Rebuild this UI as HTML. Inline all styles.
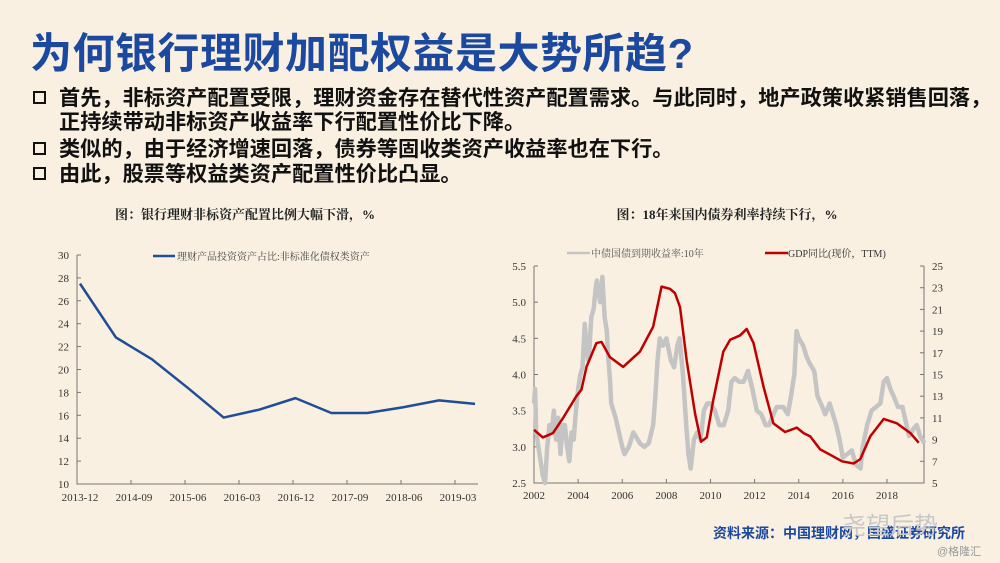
<!DOCTYPE html>
<html><head><meta charset="utf-8">
<style>
html,body{margin:0;padding:0;}
body{width:1000px;height:563px;background:#f9f0e1;position:relative;overflow:hidden;font-family:"Liberation Sans","Noto Sans CJK SC",sans-serif;}
.abs{position:absolute;white-space:nowrap;}
#title{left:30px;top:20px;font-size:42px;font-weight:bold;color:#1c49a0;letter-spacing:0.5px;}
.bul{font-size:21.2px;font-weight:bold;color:#111;}
.box{display:inline-block;width:13px;height:13px;border:2.5px solid #111;box-sizing:border-box;margin-right:13px;vertical-align:1px;}
#src{left:713px;top:523px;font-size:14px;font-weight:bold;color:#1c49a0;}
svg{position:absolute;left:0;top:0;}
</style></head>
<body>
<div id="title" class="abs">为何银行理财加配权益是大势所趋?</div>
<div class="abs bul" style="left:33px;top:81px"><span class="box"></span>首先，非标资产配置受限，理财资金存在替代性资产配置需求。与此同时，地产政策收紧销售回落，</div>
<div class="abs bul" style="left:59px;top:105px">正持续带动非标资产收益率下行配置性价比下降。</div>
<div class="abs bul" style="left:33px;top:132px"><span class="box"></span>类似的，由于经济增速回落，债券等固收类资产收益率也在下行。</div>
<div class="abs bul" style="left:33px;top:157px"><span class="box"></span>由此，股票等权益类资产配置性价比凸显。</div>
<div id="src" class="abs">资料来源：中国理财网，国盛证券研究所</div>
<div class="abs" style="left:842px;top:506px;font-size:24px;color:#c8c8c8;">尧望后势</div>
<div class="abs" style="left:937px;top:543px;font-size:11px;color:#999;">@格隆汇</div>
<svg id="chart" width="1000" height="563"></svg>
<script>
// Left chart data
const leftCats=["2013-12","2014-06","2014-12","2015-06","2015-12","2016-06","2016-12","2017-06","2017-12","2018-06","2018-12","2019-06"];
const leftVals=[27.5,22.8,20.9,18.4,15.8,16.5,17.5,16.2,16.2,16.7,17.3,17.0];
const leftTicksY=[10,12,14,16,18,20,22,24,26,28,30];
const leftTicksX=["2013-12","2014-09","2015-06","2016-03","2016-12","2017-09","2018-06","2019-03"];
// Right chart data
const gdpYears=[2002.0,2002.4,2002.86,2003.32,2003.92,2004.15,2004.38,2004.83,2005.06,2005.44,2006.04,2006.8,2007.4,2007.78,2008.16,2008.39,2008.62,2008.92,2009.3,2009.57,2009.83,2010.13,2010.58,2010.89,2011.34,2011.64,2011.95,2012.4,2012.85,2013.38,2013.91,2014.22,2014.52,2014.97,2015.43,2015.96,2016.49,2016.79,2017.24,2017.85,2018.45,2019.06,2019.44];
const gdpVals=[9.9,9.2,9.6,11.0,13.0,13.6,15.7,17.9,18.0,16.6,15.7,17.1,19.4,23.1,22.9,22.5,21.2,16.3,11.4,8.8,9.2,12.7,17.1,18.2,18.6,19.2,17.9,13.9,10.5,9.7,10.1,9.6,9.3,8.1,7.6,7.0,6.8,7.2,9.3,10.9,10.5,9.6,8.7];
const bondYears=[2002.0,2002.05,2002.1,2002.2,2002.3,2002.4,2002.5,2002.6,2002.7,2002.8,2002.9,2003.0,2003.1,2003.2,2003.3,2003.4,2003.5,2003.6,2003.7,2003.8,2003.9,2004.0,2004.1,2004.2,2004.3,2004.35,2004.45,2004.5,2004.6,2004.7,2004.8,2004.85,2004.95,2005.0,2005.1,2005.2,2005.3,2005.35,2005.45,2005.5,2005.6,2005.7,2005.85,2006.0,2006.1,2006.3,2006.5,2006.6,2006.8,2007.0,2007.2,2007.4,2007.5,2007.6,2007.7,2007.85,2008.0,2008.2,2008.35,2008.5,2008.6,2008.75,2008.9,2009.0,2009.1,2009.25,2009.4,2009.55,2009.7,2009.85,2010.0,2010.2,2010.4,2010.6,2010.8,2010.95,2011.1,2011.3,2011.5,2011.7,2011.9,2012.1,2012.3,2012.5,2012.65,2012.85,2013.0,2013.3,2013.5,2013.65,2013.8,2013.9,2014.0,2014.2,2014.35,2014.5,2014.7,2014.85,2015.0,2015.2,2015.4,2015.55,2015.7,2015.85,2016.0,2016.2,2016.4,2016.6,2016.8,2016.9,2017.1,2017.3,2017.5,2017.7,2017.85,2018.0,2018.15,2018.3,2018.5,2018.7,2018.85,2019.0,2019.2,2019.35,2019.5,2019.7];
const bondVals=[3.6,3.8,3.2,3.0,2.8,2.6,2.5,3.0,3.3,3.2,3.5,3.1,3.4,2.9,3.3,3.3,3.0,2.8,3.2,3.1,3.5,3.8,4.0,4.1,4.7,4.5,4.2,4.3,4.8,4.9,5.2,5.3,5.1,5.0,5.35,4.8,4.6,4.3,3.9,3.6,3.5,3.4,3.2,3.0,2.9,3.0,3.2,3.15,3.05,3.0,3.05,3.3,3.7,4.2,4.5,4.4,4.5,4.2,4.1,4.4,4.5,4.0,3.3,2.9,2.7,3.1,3.2,3.1,3.5,3.6,3.6,3.5,3.3,3.3,3.5,3.9,3.95,3.9,3.9,4.05,3.8,3.5,3.45,3.3,3.3,3.45,3.55,3.55,3.45,3.7,4.0,4.6,4.5,4.4,4.25,4.15,4.05,3.7,3.6,3.45,3.6,3.45,3.3,3.1,2.85,2.9,2.95,2.75,2.7,3.0,3.3,3.5,3.55,3.6,3.9,3.95,3.8,3.7,3.55,3.55,3.35,3.15,3.25,3.3,3.15,3.05];
const rightTicksL=[2.5,3.0,3.5,4.0,4.5,5.0,5.5];
const rightTicksR=[5,7,9,11,13,15,17,19,21,23,25];
const rightTicksX=[2002,2004,2006,2008,2010,2012,2014,2016,2018];

const NS="http://www.w3.org/2000/svg";
const svg=document.getElementById('chart');
function mk(tag,attrs,parent){const e=document.createElementNS(NS,tag);for(const k in attrs)e.setAttribute(k,attrs[k]);(parent||svg).appendChild(e);return e;}
function txt(s,x,y,attrs){const t=mk('text',Object.assign({x:x,y:y,'font-family':'"Liberation Serif","Noto Serif CJK SC",serif','font-size':11,fill:'#333'},attrs||{}));t.textContent=s;return t;}

// ---- Left chart ----
const L={x0:77,x1:478,y0:484,y1:255};
const lx=i=>80+i*(475-80)/(leftCats.length-1);
const ly=v=>L.y0-(v-10)/(30-10)*(L.y0-L.y1);
let t=txt('图：银行理财非标资产配置比例大幅下滑，%',245,219,{'text-anchor':'middle','font-size':13,'font-weight':'bold',fill:'#222'});


let ax=mk('path',{d:`M${L.x0},${L.y1}V${L.y0}H${L.x1}`,stroke:'#777',fill:'none','stroke-width':1});


leftTicksY.forEach(v=>{const y=ly(v);mk('line',{x1:L.x0,x2:L.x0+4,y1:y,y2:y,stroke:'#777'});
 const tt=txt(String(v),L.x0-8,y+4,{'text-anchor':'end'});
 
 });
leftTicksX.forEach((s,i)=>{const x=L.x0+i*54;mk('line',{x1:x,x2:x,y1:L.y0,y2:L.y0-4,stroke:'#777'});
 const tt=txt(s,x+3,501,{'text-anchor':'middle'});
 
 });
let lp=mk('polyline',{points:leftVals.map((v,i)=>lx(i)+','+ly(v)).join(' '),fill:'none',stroke:'#1f4e96','stroke-width':2.5,'stroke-linejoin':'round'});


mk('line',{x1:153,x2:175,y1:256,y2:256,stroke:'#1f4e96','stroke-width':2.5});
let lg=txt('理财产品投资资产占比:非标准化债权类资产',177,260,{'font-size':10,fill:'#444'});



// ---- Right chart ----
const R={x0:534,x1:924,y0:483,y1:266};
const rx=yr=>534+(yr-2002)*(887-534)/16;
const ryL=v=>R.y0-(v-2.5)/3*(R.y0-R.y1);
const ryR=v=>R.y0-(v-5)/20*(R.y0-R.y1);
t=txt('图：18年来国内债券利率持续下行，%',727,219,{'text-anchor':'middle','font-size':13,'font-weight':'bold',fill:'#222'});


ax=mk('path',{d:`M${R.x0},${R.y1}V${R.y0}H${R.x1}V${R.y1}`,stroke:'#777',fill:'none'});


rightTicksL.forEach(v=>{const y=ryL(v);mk('line',{x1:R.x0,x2:R.x0+4,y1:y,y2:y,stroke:'#777'});
 const tt=txt(v.toFixed(1),R.x0-8,y+4,{'text-anchor':'end'});
 
 });
rightTicksR.forEach(v=>{const y=ryR(v);mk('line',{x1:R.x1,x2:R.x1-4,y1:y,y2:y,stroke:'#777'});
 const tt=txt(String(v),R.x1+8,y+4,{'text-anchor':'start'});
 
 });
rightTicksX.forEach(yr=>{const x=rx(yr);mk('line',{x1:x,x2:x,y1:R.y0,y2:R.y0-4,stroke:'#777'});
 const tt=txt(String(yr),x,499,{'text-anchor':'middle'});
 
 });
let bp=mk('polyline',{points:bondYears.map((y,i)=>rx(y)+','+ryL(bondVals[i])).join(' '),fill:'none',stroke:'#c4c4c4','stroke-width':4.5,'stroke-linejoin':'round'});


let gp=mk('polyline',{points:gdpYears.map((y,i)=>rx(y)+','+ryR(gdpVals[i])).join(' '),fill:'none',stroke:'#c00000','stroke-width':2.5,'stroke-linejoin':'round'});


mk('line',{x1:567,x2:590,y1:253,y2:253,stroke:'#c4c4c4','stroke-width':2.5});
lg=txt('中债国债到期收益率:10年',591,257,{'font-size':10,fill:'#555'});


mk('line',{x1:765,x2:788,y1:253,y2:253,stroke:'#c00000','stroke-width':2.5});
lg=txt('GDP同比(现价，TTM)',788,257,{'font-size':10,fill:'#333'});


</script>
</body></html>
